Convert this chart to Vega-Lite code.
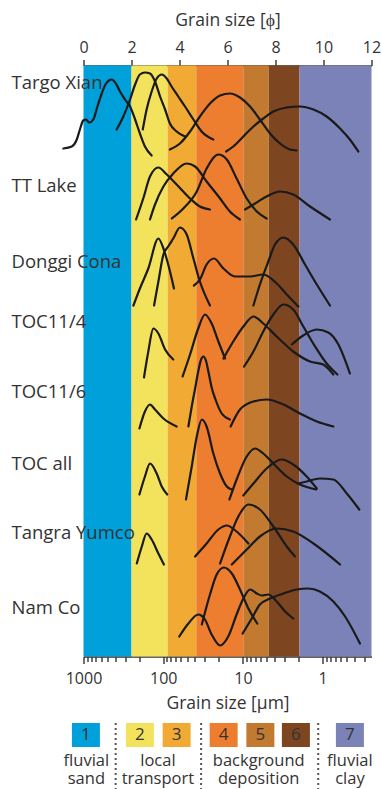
{
  "$schema": "https://vega.github.io/schema/vega-lite/v6.json",
  "width": 288,
  "height": 591,
  "autosize": {"type": "none"},
  "padding": {"left": 83.5, "top": 65.5, "right": 10.5, "bottom": 132.5},
  "config": {
    "font": "Open Sans",
    "view": {"stroke": null},
    "axis": {"grid": false}
  },
  "datasets": {
    "bands": [
      {"cls": "1", "um_from": 1000, "um_to": 250},
      {"cls": "2", "um_from": 250, "um_to": 88},
      {"cls": "3", "um_from": 88, "um_to": 38.5},
      {"cls": "4", "um_from": 38.5, "um_to": 9.9},
      {"cls": "5", "um_from": 9.9, "um_to": 4.75},
      {"cls": "6", "um_from": 4.75, "um_to": 1.95},
      {"cls": "7", "um_from": 1.95, "um_to": 0.244140625}
    ],
    "sites": [
      {"site": "Targo Xian", "level": 573.5},
      {"site": "TT Lake", "level": 471},
      {"site": "Donggi Cona", "level": 395},
      {"site": "TOC11/4", "level": 335},
      {"site": "TOC11/6", "level": 265},
      {"site": "TOC all", "level": 193},
      {"site": "Tangra Yumco", "level": 123.5},
      {"site": "Nam Co", "level": 48.5}
    ],
    "legend": [
      {"cls": "1", "pos": 0.1},
      {"cls": "2", "pos": 2.35},
      {"cls": "3", "pos": 3.88},
      {"cls": "4", "pos": 5.84},
      {"cls": "5", "pos": 7.37},
      {"cls": "6", "pos": 8.85},
      {"cls": "7", "pos": 11.1}
    ],
    "groups": [
      {"label": "fluvial\nsand", "pos": 0.12},
      {"label": "local\ntransport", "pos": 3.1},
      {"label": "background\ndeposition", "pos": 7.3},
      {"label": "fluvial\nclay", "pos": 11.1}
    ],
    "separators": [
      {"pos": 1.34},
      {"pos": 4.9},
      {"pos": 9.78}
    ],
    "curves": [
      {"curve": "TX1", "phi": -0.84, "level": 508},
      {"curve": "TX1", "phi": -0.49, "level": 510},
      {"curve": "TX1", "phi": -0.28, "level": 517},
      {"curve": "TX1", "phi": -0.15, "level": 527},
      {"curve": "TX1", "phi": -0.01, "level": 536},
      {"curve": "TX1", "phi": 0.1, "level": 537},
      {"curve": "TX1", "phi": 0.24, "level": 534},
      {"curve": "TX1", "phi": 0.41, "level": 537},
      {"curve": "TX1", "phi": 0.58, "level": 550},
      {"curve": "TX1", "phi": 0.76, "level": 563},
      {"curve": "TX1", "phi": 0.94, "level": 573},
      {"curve": "TX1", "phi": 1.17, "level": 577},
      {"curve": "TX1", "phi": 1.35, "level": 573},
      {"curve": "TX1", "phi": 1.52, "level": 565},
      {"curve": "TX1", "phi": 1.73, "level": 557},
      {"curve": "TX1", "phi": 1.94, "level": 550},
      {"curve": "TX1", "phi": 2.15, "level": 537},
      {"curve": "TX1", "phi": 2.35, "level": 523},
      {"curve": "TX1", "phi": 2.56, "level": 510},
      {"curve": "TX1", "phi": 2.84, "level": 501},

      {"curve": "TX2", "phi": 1.38, "level": 527},
      {"curve": "TX2", "phi": 1.66, "level": 540},
      {"curve": "TX2", "phi": 1.94, "level": 557},
      {"curve": "TX2", "phi": 2.15, "level": 572},
      {"curve": "TX2", "phi": 2.35, "level": 582},
      {"curve": "TX2", "phi": 2.56, "level": 584},
      {"curve": "TX2", "phi": 2.77, "level": 583},
      {"curve": "TX2", "phi": 2.98, "level": 575},
      {"curve": "TX2", "phi": 3.19, "level": 560},
      {"curve": "TX2", "phi": 3.4, "level": 547},
      {"curve": "TX2", "phi": 3.6, "level": 533},
      {"curve": "TX2", "phi": 3.88, "level": 525},
      {"curve": "TX2", "phi": 4.23, "level": 520},

      {"curve": "TX3", "phi": 2.47, "level": 527},
      {"curve": "TX3", "phi": 2.63, "level": 547},
      {"curve": "TX3", "phi": 2.84, "level": 565},
      {"curve": "TX3", "phi": 3.05, "level": 578},
      {"curve": "TX3", "phi": 3.26, "level": 582},
      {"curve": "TX3", "phi": 3.47, "level": 578},
      {"curve": "TX3", "phi": 3.67, "level": 570},
      {"curve": "TX3", "phi": 3.95, "level": 560},
      {"curve": "TX3", "phi": 4.23, "level": 550},
      {"curve": "TX3", "phi": 4.58, "level": 537},
      {"curve": "TX3", "phi": 4.92, "level": 525},
      {"curve": "TX3", "phi": 5.41, "level": 517},

      {"curve": "TX4", "phi": 3.6, "level": 507},
      {"curve": "TX4", "phi": 4.02, "level": 513},
      {"curve": "TX4", "phi": 4.44, "level": 525},
      {"curve": "TX4", "phi": 4.85, "level": 540},
      {"curve": "TX4", "phi": 5.27, "level": 553},
      {"curve": "TX4", "phi": 5.69, "level": 561},
      {"curve": "TX4", "phi": 6.1, "level": 563},
      {"curve": "TX4", "phi": 6.52, "level": 559},
      {"curve": "TX4", "phi": 6.94, "level": 550},
      {"curve": "TX4", "phi": 7.35, "level": 537},
      {"curve": "TX4", "phi": 7.77, "level": 523},
      {"curve": "TX4", "phi": 8.19, "level": 513},
      {"curve": "TX4", "phi": 8.6, "level": 507},
      {"curve": "TX4", "phi": 8.88, "level": 506},

      {"curve": "TX5", "phi": 5.94, "level": 505},
      {"curve": "TX5", "phi": 6.24, "level": 510},
      {"curve": "TX5", "phi": 6.66, "level": 520},
      {"curve": "TX5", "phi": 7.08, "level": 530},
      {"curve": "TX5", "phi": 7.49, "level": 538},
      {"curve": "TX5", "phi": 7.91, "level": 545},
      {"curve": "TX5", "phi": 8.47, "level": 549},
      {"curve": "TX5", "phi": 9.02, "level": 550},
      {"curve": "TX5", "phi": 9.58, "level": 547},
      {"curve": "TX5", "phi": 10.13, "level": 540},
      {"curve": "TX5", "phi": 10.69, "level": 528},
      {"curve": "TX5", "phi": 11.1, "level": 517},
      {"curve": "TX5", "phi": 11.45, "level": 505},

      {"curve": "TT1", "phi": 2.19, "level": 437},
      {"curve": "TT1", "phi": 2.49, "level": 458},
      {"curve": "TT1", "phi": 2.77, "level": 480},
      {"curve": "TT1", "phi": 3.12, "level": 489},
      {"curve": "TT1", "phi": 3.47, "level": 482},
      {"curve": "TT1", "phi": 3.88, "level": 472},
      {"curve": "TT1", "phi": 4.44, "level": 458},
      {"curve": "TT1", "phi": 4.85, "level": 450},
      {"curve": "TT1", "phi": 5.27, "level": 447},

      {"curve": "TT2", "phi": 2.77, "level": 437},
      {"curve": "TT2", "phi": 2.98, "level": 452},
      {"curve": "TT2", "phi": 3.33, "level": 470},
      {"curve": "TT2", "phi": 3.74, "level": 483},
      {"curve": "TT2", "phi": 4.3, "level": 493},
      {"curve": "TT2", "phi": 4.65, "level": 490},
      {"curve": "TT2", "phi": 5.13, "level": 475},
      {"curve": "TT2", "phi": 5.69, "level": 458},
      {"curve": "TT2", "phi": 6.1, "level": 445},
      {"curve": "TT2", "phi": 6.52, "level": 437},

      {"curve": "TT3", "phi": 3.68, "level": 438},
      {"curve": "TT3", "phi": 4.16, "level": 448},
      {"curve": "TT3", "phi": 4.72, "level": 465},
      {"curve": "TT3", "phi": 5.13, "level": 488},
      {"curve": "TT3", "phi": 5.62, "level": 502},
      {"curve": "TT3", "phi": 5.97, "level": 497},
      {"curve": "TT3", "phi": 6.38, "level": 478},
      {"curve": "TT3", "phi": 6.8, "level": 458},
      {"curve": "TT3", "phi": 7.22, "level": 445},
      {"curve": "TT3", "phi": 7.63, "level": 438},

      {"curve": "TT4", "phi": 6.73, "level": 447},
      {"curve": "TT4", "phi": 7.08, "level": 452},
      {"curve": "TT4", "phi": 7.63, "level": 460},
      {"curve": "TT4", "phi": 8.19, "level": 465},
      {"curve": "TT4", "phi": 8.74, "level": 462},
      {"curve": "TT4", "phi": 9.44, "level": 450},
      {"curve": "TT4", "phi": 10.27, "level": 437},

      {"curve": "DC1", "phi": 2.08, "level": 351},
      {"curve": "DC1", "phi": 2.35, "level": 368},
      {"curve": "DC1", "phi": 2.7, "level": 388},
      {"curve": "DC1", "phi": 3.12, "level": 418},
      {"curve": "DC1", "phi": 3.33, "level": 408},
      {"curve": "DC1", "phi": 3.53, "level": 392},
      {"curve": "DC1", "phi": 3.77, "level": 368},

      {"curve": "DC2", "phi": 2.94, "level": 351},
      {"curve": "DC2", "phi": 3.12, "level": 375},
      {"curve": "DC2", "phi": 3.33, "level": 402},
      {"curve": "DC2", "phi": 3.53, "level": 410},
      {"curve": "DC2", "phi": 3.74, "level": 418},
      {"curve": "DC2", "phi": 4.02, "level": 429},
      {"curve": "DC2", "phi": 4.3, "level": 422},
      {"curve": "DC2", "phi": 4.58, "level": 398},
      {"curve": "DC2", "phi": 4.85, "level": 375},
      {"curve": "DC2", "phi": 5.27, "level": 351},

      {"curve": "DC3", "phi": 4.6, "level": 371},
      {"curve": "DC3", "phi": 4.85, "level": 377},
      {"curve": "DC3", "phi": 5.13, "level": 392},
      {"curve": "DC3", "phi": 5.44, "level": 398},
      {"curve": "DC3", "phi": 5.83, "level": 388},
      {"curve": "DC3", "phi": 6.31, "level": 380},
      {"curve": "DC3", "phi": 6.94, "level": 380},
      {"curve": "DC3", "phi": 7.49, "level": 382},
      {"curve": "DC3", "phi": 8.05, "level": 373},
      {"curve": "DC3", "phi": 8.47, "level": 362},
      {"curve": "DC3", "phi": 8.95, "level": 350},

      {"curve": "DC4", "phi": 7.08, "level": 351},
      {"curve": "DC4", "phi": 7.35, "level": 372},
      {"curve": "DC4", "phi": 7.7, "level": 395},
      {"curve": "DC4", "phi": 7.98, "level": 412},
      {"curve": "DC4", "phi": 8.33, "level": 419},
      {"curve": "DC4", "phi": 8.74, "level": 412},
      {"curve": "DC4", "phi": 9.23, "level": 392},
      {"curve": "DC4", "phi": 9.72, "level": 372},
      {"curve": "DC4", "phi": 10.27, "level": 351},

      {"curve": "T4a", "phi": 2.52, "level": 279},
      {"curve": "T4a", "phi": 2.7, "level": 305},
      {"curve": "T4a", "phi": 2.91, "level": 328},
      {"curve": "T4a", "phi": 3.12, "level": 323},
      {"curve": "T4a", "phi": 3.4, "level": 307},
      {"curve": "T4a", "phi": 3.74, "level": 297},

      {"curve": "T4b", "phi": 4.13, "level": 280},
      {"curve": "T4b", "phi": 4.44, "level": 302},
      {"curve": "T4b", "phi": 4.78, "level": 328},
      {"curve": "T4b", "phi": 5.06, "level": 342},
      {"curve": "T4b", "phi": 5.34, "level": 333},
      {"curve": "T4b", "phi": 5.62, "level": 315},
      {"curve": "T4b", "phi": 5.9, "level": 298},

      {"curve": "T4c", "phi": 5.83, "level": 298},
      {"curve": "T4c", "phi": 6.24, "level": 315},
      {"curve": "T4c", "phi": 6.66, "level": 330},
      {"curve": "T4c", "phi": 7.08, "level": 340},
      {"curve": "T4c", "phi": 7.49, "level": 333},
      {"curve": "T4c", "phi": 8.05, "level": 320},
      {"curve": "T4c", "phi": 8.74, "level": 305},
      {"curve": "T4c", "phi": 9.44, "level": 295},
      {"curve": "T4c", "phi": 9.99, "level": 292},
      {"curve": "T4c", "phi": 10.41, "level": 282},

      {"curve": "T4d", "phi": 6.69, "level": 290},
      {"curve": "T4d", "phi": 7.08, "level": 305},
      {"curve": "T4d", "phi": 7.49, "level": 325},
      {"curve": "T4d", "phi": 7.91, "level": 342},
      {"curve": "T4d", "phi": 8.33, "level": 352},
      {"curve": "T4d", "phi": 8.74, "level": 347},
      {"curve": "T4d", "phi": 9.16, "level": 330},
      {"curve": "T4d", "phi": 9.65, "level": 310},
      {"curve": "T4d", "phi": 10.13, "level": 293},
      {"curve": "T4d", "phi": 10.58, "level": 282},

      {"curve": "T4e", "phi": 8.68, "level": 312},
      {"curve": "T4e", "phi": 9.09, "level": 320},
      {"curve": "T4e", "phi": 9.72, "level": 327},
      {"curve": "T4e", "phi": 10.2, "level": 324},
      {"curve": "T4e", "phi": 10.62, "level": 312},
      {"curve": "T4e", "phi": 11.1, "level": 283},

      {"curve": "T6a", "phi": 2.33, "level": 228},
      {"curve": "T6a", "phi": 2.56, "level": 245},
      {"curve": "T6a", "phi": 2.77, "level": 252},
      {"curve": "T6a", "phi": 2.98, "level": 247},
      {"curve": "T6a", "phi": 3.33, "level": 238},
      {"curve": "T6a", "phi": 3.88, "level": 230},

      {"curve": "T6b", "phi": 4.37, "level": 230},
      {"curve": "T6b", "phi": 4.51, "level": 250},
      {"curve": "T6b", "phi": 4.65, "level": 268},
      {"curve": "T6b", "phi": 4.78, "level": 285},
      {"curve": "T6b", "phi": 4.9, "level": 297},
      {"curve": "T6b", "phi": 5.0, "level": 300},
      {"curve": "T6b", "phi": 5.1, "level": 296},
      {"curve": "T6b", "phi": 5.22, "level": 283},
      {"curve": "T6b", "phi": 5.35, "level": 268},
      {"curve": "T6b", "phi": 5.5, "level": 257},
      {"curve": "T6b", "phi": 5.76, "level": 243},
      {"curve": "T6b", "phi": 6.1, "level": 237},

      {"curve": "T6c", "phi": 6.13, "level": 230},
      {"curve": "T6c", "phi": 6.52, "level": 247},
      {"curve": "T6c", "phi": 7.08, "level": 255},
      {"curve": "T6c", "phi": 7.63, "level": 257},
      {"curve": "T6c", "phi": 8.33, "level": 252},
      {"curve": "T6c", "phi": 9.02, "level": 243},
      {"curve": "T6c", "phi": 9.72, "level": 235},
      {"curve": "T6c", "phi": 10.41, "level": 230},

      {"curve": "TAa", "phi": 2.33, "level": 162},
      {"curve": "TAa", "phi": 2.56, "level": 180},
      {"curve": "TAa", "phi": 2.77, "level": 193},
      {"curve": "TAa", "phi": 3.05, "level": 183},
      {"curve": "TAa", "phi": 3.26, "level": 170},
      {"curve": "TAa", "phi": 3.49, "level": 162},

      {"curve": "TAb", "phi": 4.27, "level": 157},
      {"curve": "TAb", "phi": 4.51, "level": 190},
      {"curve": "TAb", "phi": 4.72, "level": 220},
      {"curve": "TAb", "phi": 4.93, "level": 237},
      {"curve": "TAb", "phi": 5.13, "level": 230},
      {"curve": "TAb", "phi": 5.41, "level": 203},
      {"curve": "TAb", "phi": 5.69, "level": 183},
      {"curve": "TAb", "phi": 5.97, "level": 170},
      {"curve": "TAb", "phi": 6.18, "level": 167},

      {"curve": "TAc", "phi": 6.08, "level": 157},
      {"curve": "TAc", "phi": 6.38, "level": 177},
      {"curve": "TAc", "phi": 6.8, "level": 200},
      {"curve": "TAc", "phi": 7.15, "level": 208},
      {"curve": "TAc", "phi": 7.49, "level": 203},
      {"curve": "TAc", "phi": 7.91, "level": 193},
      {"curve": "TAc", "phi": 8.47, "level": 180},
      {"curve": "TAc", "phi": 9.02, "level": 172},
      {"curve": "TAc", "phi": 9.69, "level": 167},

      {"curve": "TAd", "phi": 6.66, "level": 161},
      {"curve": "TAd", "phi": 7.08, "level": 173},
      {"curve": "TAd", "phi": 7.63, "level": 188},
      {"curve": "TAd", "phi": 8.26, "level": 197},
      {"curve": "TAd", "phi": 8.74, "level": 192},
      {"curve": "TAd", "phi": 9.3, "level": 180},
      {"curve": "TAd", "phi": 9.72, "level": 168},

      {"curve": "TAe", "phi": 8.95, "level": 173},
      {"curve": "TAe", "phi": 9.3, "level": 175},
      {"curve": "TAe", "phi": 9.85, "level": 178},
      {"curve": "TAe", "phi": 10.41, "level": 177},
      {"curve": "TAe", "phi": 10.97, "level": 163},
      {"curve": "TAe", "phi": 11.49, "level": 147},

      {"curve": "TYa", "phi": 2.22, "level": 93},
      {"curve": "TYa", "phi": 2.43, "level": 110},
      {"curve": "TYa", "phi": 2.63, "level": 123},
      {"curve": "TYa", "phi": 2.84, "level": 117},
      {"curve": "TYa", "phi": 3.12, "level": 103},
      {"curve": "TYa", "phi": 3.35, "level": 92},

      {"curve": "TYb", "phi": 4.65, "level": 100},
      {"curve": "TYb", "phi": 5.13, "level": 113},
      {"curve": "TYb", "phi": 5.62, "level": 127},
      {"curve": "TYb", "phi": 5.97, "level": 131},
      {"curve": "TYb", "phi": 6.38, "level": 125},
      {"curve": "TYb", "phi": 6.87, "level": 113},

      {"curve": "TYc", "phi": 5.69, "level": 93},
      {"curve": "TYc", "phi": 6.1, "level": 120},
      {"curve": "TYc", "phi": 6.45, "level": 140},
      {"curve": "TYc", "phi": 6.87, "level": 152},
      {"curve": "TYc", "phi": 7.35, "level": 147},
      {"curve": "TYc", "phi": 7.91, "level": 130},
      {"curve": "TYc", "phi": 8.47, "level": 110},
      {"curve": "TYc", "phi": 8.81, "level": 100},

      {"curve": "TYd", "phi": 6.18, "level": 92},
      {"curve": "TYd", "phi": 6.8, "level": 107},
      {"curve": "TYd", "phi": 7.35, "level": 120},
      {"curve": "TYd", "phi": 8.05, "level": 128},
      {"curve": "TYd", "phi": 8.74, "level": 125},
      {"curve": "TYd", "phi": 9.58, "level": 113},
      {"curve": "TYd", "phi": 10.69, "level": 92},

      {"curve": "NCa", "phi": 3.99, "level": 20},
      {"curve": "NCa", "phi": 4.37, "level": 33},
      {"curve": "NCa", "phi": 4.78, "level": 42},
      {"curve": "NCa", "phi": 5.06, "level": 37},
      {"curve": "NCa", "phi": 5.34, "level": 22},
      {"curve": "NCa", "phi": 5.69, "level": 11},
      {"curve": "NCa", "phi": 6.03, "level": 20},
      {"curve": "NCa", "phi": 6.38, "level": 42},
      {"curve": "NCa", "phi": 6.66, "level": 58},
      {"curve": "NCa", "phi": 6.94, "level": 67},
      {"curve": "NCa", "phi": 7.22, "level": 63},
      {"curve": "NCa", "phi": 7.43, "level": 61},
      {"curve": "NCa", "phi": 7.7, "level": 62},
      {"curve": "NCa", "phi": 8.05, "level": 55},
      {"curve": "NCa", "phi": 8.4, "level": 45},
      {"curve": "NCa", "phi": 8.74, "level": 38},

      {"curve": "NCb", "phi": 4.93, "level": 32},
      {"curve": "NCb", "phi": 5.27, "level": 62},
      {"curve": "NCb", "phi": 5.55, "level": 82},
      {"curve": "NCb", "phi": 5.85, "level": 89},
      {"curve": "NCb", "phi": 6.18, "level": 83},
      {"curve": "NCb", "phi": 6.52, "level": 67},
      {"curve": "NCb", "phi": 6.87, "level": 48},
      {"curve": "NCb", "phi": 7.24, "level": 33},

      {"curve": "NCc", "phi": 6.63, "level": 23},
      {"curve": "NCc", "phi": 7.01, "level": 38},
      {"curve": "NCc", "phi": 7.35, "level": 52},
      {"curve": "NCc", "phi": 7.77, "level": 58},
      {"curve": "NCc", "phi": 8.33, "level": 63},
      {"curve": "NCc", "phi": 8.88, "level": 67},
      {"curve": "NCc", "phi": 9.37, "level": 68},
      {"curve": "NCc", "phi": 9.85, "level": 65},
      {"curve": "NCc", "phi": 10.41, "level": 55},
      {"curve": "NCc", "phi": 10.9, "level": 40},
      {"curve": "NCc", "phi": 11.52, "level": 13}
    ]
  },
  "layer": [
    {
      "data": {"name": "bands"},
      "mark": {"type": "rect"},
      "encoding": {
        "x": {
          "field": "um_from",
          "type": "quantitative",
          "scale": {"type": "log", "domain": [0.244140625, 1000], "reverse": true, "nice": false},
          "axis": {
            "orient": "bottom",
            "title": "Grain size [µm]",
            "values": [1000, 900, 800, 700, 600, 500, 400, 300, 200, 100, 90, 80, 70, 60, 50, 40, 30, 20, 10, 9, 8, 7, 6, 5, 4, 3, 2, 1, 0.9, 0.8, 0.7, 0.6, 0.5, 0.4, 0.3],
            "labelExpr": "(datum.value == 1000 || datum.value == 100 || datum.value == 10 || datum.value == 1) ? '' + datum.value : ''",
            "labelOverlap": false,
            "labelBound": false,
            "labelFlush": false,
            "labelFontSize": 16,
            "labelColor": "#333333",
            "labelPadding": 7,
            "tickSize": {
              "condition": {"test": "datum.value == 1000 || datum.value == 100 || datum.value == 10 || datum.value == 1", "value": 7},
              "value": 5
            },
            "tickColor": "#333333",
            "tickWidth": 1.4,
            "domainColor": "#333333",
            "domainWidth": 1.5,
            "titleFontSize": 17.5,
            "titleFontWeight": "normal",
            "titleColor": "#333333",
            "titlePadding": 8
          }
        },
        "x2": {"field": "um_to"},
        "color": {
          "field": "cls",
          "type": "nominal",
          "scale": {
            "domain": ["1", "2", "3", "4", "5", "6", "7"],
            "range": ["#00a0da", "#f3e35c", "#f1aa33", "#ee7e2f", "#c27a31", "#7e4521", "#7b82b8"]
          },
          "legend": null
        }
      }
    },
    {
      "layer": [
        {
          "data": {"name": "curves"},
          "mark": {"type": "line", "interpolate": "monotone", "stroke": "#1a1a1a", "strokeWidth": 2.2, "strokeCap": "round", "strokeJoin": "round"},
          "encoding": {
            "x": {
              "field": "phi",
              "type": "quantitative",
              "scale": {"domain": [0, 12], "nice": false, "zero": false},
              "axis": {
                "orient": "top",
                "title": "Grain size [ϕ]",
                "values": [0, 2, 4, 6, 8, 10, 12],
                "labelFlush": false,
                "labelFontSize": 16,
                "labelColor": "#333333",
                "labelPadding": 4,
                "tickSize": 6,
                "tickColor": "#333333",
                "tickWidth": 1.4,
                "domainColor": "#333333",
                "domainWidth": 1.5,
                "titleFontSize": 17.5,
                "titleFontWeight": "normal",
                "titleColor": "#333333",
                "titlePadding": 10
              }
            },
            "y": {
              "field": "level",
              "type": "quantitative",
              "scale": {"domain": [0, 591], "nice": false, "zero": false},
              "axis": null
            },
            "detail": {"field": "curve", "type": "nominal"}
          }
        },
        {
          "data": {"name": "sites"},
          "mark": {"type": "text", "align": "left", "baseline": "middle", "fontSize": 18.5, "color": "#333333"},
          "encoding": {
            "x": {"datum": -3, "type": "quantitative"},
            "y": {"field": "level", "type": "quantitative"},
            "text": {"field": "site", "type": "nominal"}
          }
        },
        {
          "data": {"name": "legend"},
          "mark": {"type": "rect", "width": 28, "height": 24},
          "encoding": {
            "x": {"field": "pos", "type": "quantitative"},
            "y": {"datum": -78.5, "type": "quantitative"},
            "color": {"field": "cls", "type": "nominal", "legend": null}
          }
        },
        {
          "data": {"name": "legend"},
          "mark": {"type": "text", "align": "center", "baseline": "middle", "fontSize": 17, "color": "#333333"},
          "encoding": {
            "x": {"field": "pos", "type": "quantitative"},
            "y": {"datum": -78.5, "type": "quantitative"},
            "text": {"field": "cls", "type": "nominal"}
          }
        },
        {
          "data": {"name": "separators"},
          "mark": {"type": "rule", "stroke": "#555555", "strokeWidth": 2, "strokeDash": [2, 3]},
          "encoding": {
            "x": {"field": "pos", "type": "quantitative"},
            "y": {"datum": -66.5, "type": "quantitative"},
            "y2": {"datum": -132.5}
          }
        },
        {
          "data": {"name": "groups"},
          "mark": {"type": "text", "align": "center", "baseline": "middle", "fontSize": 16.5, "lineHeight": 18.5, "lineBreak": "\n", "color": "#333333"},
          "encoding": {
            "x": {"field": "pos", "type": "quantitative"},
            "y": {"datum": -104, "type": "quantitative"},
            "text": {"field": "label", "type": "nominal"}
          }
        }
      ]
    }
  ],
  "resolve": {"scale": {"x": "independent"}, "axis": {"x": "independent"}}
}
